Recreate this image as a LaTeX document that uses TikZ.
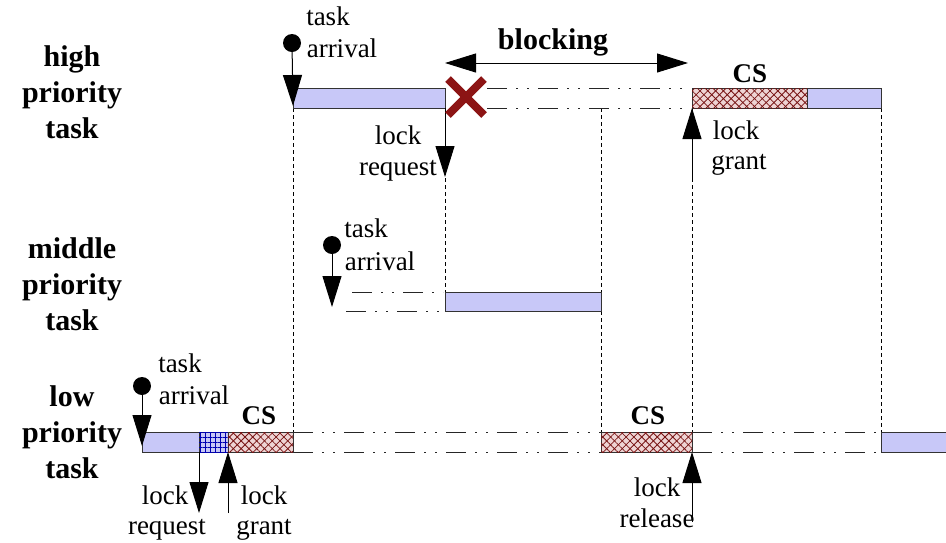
\documentclass[tikz,border=0pt]{standalone}
\usepackage{fontspec}
\setmainfont{Liberation Serif}
\usetikzlibrary{arrows.meta,patterns.meta,calc}
\definecolor{barblue}{RGB}{200,200,248}
\definecolor{cspink}{RGB}{238,212,212}
\definecolor{csred}{RGB}{120,20,20}
\definecolor{xred}{RGB}{140,20,20}
\definecolor{gridblue}{RGB}{200,200,245}
\begin{document}
\begin{tikzpicture}[x=1pt,y=-1pt,
  lab/.style={font=\fontsize{27}{30}\selectfont, inner sep=0pt, text height=0.68em, text depth=0.18em, yshift=-6pt},
  blab/.style={font=\fontsize{30}{36}\selectfont\bfseries, align=center, inner sep=0pt},
  cslab/.style={font=\fontsize{27}{30}\selectfont\bfseries, inner sep=0pt},
  bar/.style={draw=black!80, line width=1pt, fill=barblue},
  csbar/.style={draw=black!80, line width=1pt, fill=cspink,
     postaction={pattern={Lines[angle=45,distance=5.5pt,line width=0.8pt]}, pattern color=csred},
     postaction={pattern={Lines[angle=-45,distance=5.5pt,line width=0.8pt]}, pattern color=csred}},
  gridbar/.style={draw=black!80, line width=1pt, fill=gridblue,
     postaction={pattern={Lines[angle=0,distance=5pt,line width=0.8pt]}, pattern color=blue!70!black},
     postaction={pattern={Lines[angle=90,distance=5pt,line width=0.8pt]}, pattern color=blue!70!black}},
  tri/.style={line width=1pt, -{Triangle[length=31pt,width=19pt]}},
  vdash/.style={line width=1pt, dash pattern=on 4pt off 3pt},
  dashdot/.style={line width=1pt, black!85, dash pattern=on 20pt off 9pt on 2pt off 9pt on 2pt off 9pt},
  dot/.style={circle, fill=black, inner sep=0pt, minimum size=18pt}
]
\useasboundingbox (0,0) rectangle (946,542);

% row labels
\node[blab] (hl) at (72,92) {high\\priority\\task};
\node[blab] (ml) at (72,284) {middle\\priority\\task};
\node[blab] (ll) at (72,432) {low\\priority\\task};

% ---------- vertical dashed guides ----------
\coordinate (v1t) at (293,108); \coordinate (v1b) at (293,432);
\coordinate (v2t) at (445,108); \coordinate (v2b) at (445,292);
\coordinate (v3t) at (601,108); \coordinate (v3b) at (601,432);
\coordinate (v4t) at (692,108); \coordinate (v4b) at (692,432);
\coordinate (v5t) at (881,108); \coordinate (v5b) at (881,432);
\draw[vdash] (v1t) -- (v1b);
\draw[vdash] (v2t) -- (v2b);
\draw[vdash] (v3t) -- (v3b);
\draw[vdash] (v4t) -- (v4b);
\draw[vdash] (v5t) -- (v5b);

% ---------- dash-dot waiting lines ----------
\coordinate (h1a) at (487,88);  \coordinate (h1b) at (690,88);
\coordinate (h2a) at (487,108); \coordinate (h2b) at (690,108);
\draw[dashdot] (h1a) -- (h1b);
\draw[dashdot] (h2a) -- (h2b);
\coordinate (m1a) at (352,292); \coordinate (m1b) at (443,292);
\coordinate (m2a) at (346,311); \coordinate (m2b) at (443,311);
\draw[dashdot] (m1a) -- (m1b);
\draw[dashdot] (m2a) -- (m2b);
\coordinate (l1a) at (293,432); \coordinate (l1b) at (601,432);
\coordinate (l2a) at (293,452); \coordinate (l2b) at (601,452);
\coordinate (l3a) at (692,432); \coordinate (l3b) at (881,432);
\coordinate (l4a) at (692,452); \coordinate (l4b) at (881,452);
\draw[dashdot] (l1a) -- (l1b);
\draw[dashdot] (l2a) -- (l2b);
\draw[dashdot] (l3a) -- (l3b);
\draw[dashdot] (l4a) -- (l4b);

% ---------- bars ----------
\draw[bar] (293,88) rectangle (445,108);
\draw[csbar] (692,88) rectangle (807,108);
\draw[bar] (807,88) rectangle (881,108);
\draw[bar] (445,292) rectangle (601,311);
\draw[bar] (142,432) rectangle (199,452);
\draw[gridbar] (199,432) rectangle (228,452);
\draw[csbar] (228,432) rectangle (293,452);
\draw[csbar] (601,432) rectangle (692,452);
\fill[barblue] (881,432) rectangle (946,452);
\draw[draw=black!80, line width=1pt] (946,432) -- (881,432) -- (881,452) -- (946,452);

% CS labels
\node[cslab] (cs1) at (750,74) {CS};
\node[cslab] (cs2) at (259,416) {CS};
\node[cslab] (cs3) at (648,416) {CS};

% ---------- task arrivals ----------
\node[dot] (ha) at (292,43) {};
\coordinate (hat) at (293,106);
\draw[tri] (ha.center) -- (hat);
\node[lab] (hat1) at (328,17) {task};
\node[lab] (hat2) at (342,49) {arrival};

\node[dot] (ma) at (332,245) {};
\coordinate (mat) at (332,307);
\draw[tri] (ma.center) -- (mat);
\node[lab] (mat1) at (366,229) {task};
\node[lab] (mat2) at (380,262) {arrival};

\node[dot] (la) at (142,386) {};
\coordinate (lat) at (142,446);
\draw[tri] (la.center) -- (lat);
\node[lab] (lat1) at (180,364) {task};
\node[lab] (lat2) at (194,396) {arrival};

% ---------- lock arrows ----------
\coordinate (hrq0) at (445,108); \coordinate (hrq1) at (445,177);
\draw[tri] (hrq0) -- (hrq1);
\node[lab] (hrq2) at (398,136) {lock};
\node[lab] (hrq3) at (398,167) {request};

\coordinate (hg0) at (692,178); \coordinate (hg1) at (692,108);
\draw[tri] (hg0) -- (hg1);
\node[lab] (hg2) at (736,131) {lock};
\node[lab] (hg3) at (739,161) {grant};

\coordinate (lrq0) at (199,452); \coordinate (lrq1) at (199,513);
\draw[tri] (lrq0) -- (lrq1);
\node[lab] (lrq2) at (165,496) {lock};
\node[lab] (lrq3) at (167,526) {request};

\coordinate (lg0) at (228,513); \coordinate (lg1) at (228,452);
\draw[tri] (lg0) -- (lg1);
\node[lab] (lg2) at (264,496) {lock};
\node[lab] (lg3) at (264,526) {grant};

\coordinate (lr0) at (692,522); \coordinate (lr1) at (692,452);
\draw[tri] (lr0) -- (lr1);
\node[lab] (lr2) at (657,488) {lock};
\node[lab] (lr3) at (657,519) {release};

% ---------- blocking ----------
\coordinate (bl0) at (445,63); \coordinate (bl1) at (688,63);
\draw[line width=1pt, {Triangle[length=31pt,width=19pt]}-{Triangle[length=31pt,width=19pt]}] (bl0) -- (bl1);
\node[font=\fontsize{30}{32}\selectfont\bfseries, inner sep=0pt] (blk) at (553,42) {blocking};

% red X
\coordinate (xc) at (466,97);
\draw[xred, line width=8pt] ($(xc)+(-18,-18)$) -- ($(xc)+(18,18)$);
\draw[xred, line width=8pt] ($(xc)+(-18,18)$) -- ($(xc)+(18,-18)$);
\end{tikzpicture}
\end{document}
